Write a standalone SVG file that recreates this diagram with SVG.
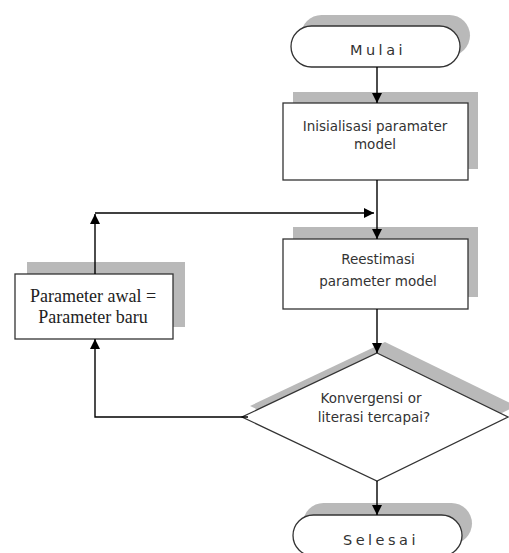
<svg xmlns="http://www.w3.org/2000/svg" width="509" height="553" viewBox="0 0 509 553">
<defs>
<marker id="arr" markerUnits="userSpaceOnUse" markerWidth="10" markerHeight="10" refX="10" refY="5" orient="auto">
<path d="M0,0 L10,5 L0,10 Z" fill="#000"/>
</marker>
<style>
.sh{fill:#b9b9b9;stroke:none}
.nd{fill:#fff;stroke:#333;stroke-width:1.3}
.ln{fill:none;stroke:#000;stroke-width:1.4}
.t{font-family:"DejaVu Sans",sans-serif;font-size:13.5px;fill:#333;text-anchor:middle}
.ts{font-family:"DejaVu Sans",sans-serif;font-size:14.5px;fill:#333;text-anchor:middle;letter-spacing:3.5px}
.tr{font-family:"Liberation Serif",serif;font-size:18px;fill:#222;text-anchor:middle}
</style>
</defs>
<rect width="509" height="553" fill="#fff"/>
<g id="mulai">
<rect class="sh" x="301" y="15" width="169" height="41" rx="20.5"/>
<rect class="nd" x="291" y="26" width="169" height="41" rx="20.5"/>
<text class="ts" x="378" y="55">Mulai</text>
</g>
<g id="inisialisasi">
<rect class="sh" x="293" y="92" width="185" height="77"/>
<rect class="nd" x="283" y="103" width="185" height="77"/>
<text class="t" x="375" y="131">Inisialisasi paramater</text>
<text class="t" x="375" y="149">model</text>
</g>
<g id="reestimasi">
<rect class="sh" x="293" y="227" width="185" height="70"/>
<rect class="nd" x="283" y="239" width="185" height="70"/>
<text class="t" x="378" y="264">Reestimasi</text>
<text class="t" x="378" y="286">parameter model</text>
</g>
<g id="parameter">
<rect class="sh" x="27" y="262" width="158" height="65"/>
<rect class="nd" x="15" y="274" width="158" height="65"/>
<text class="tr" x="93" y="302">Parameter awal =</text>
<text class="tr" x="93" y="323">Parameter baru</text>
</g>
<g id="konvergensi">
<polygon class="sh" points="385,342 516,406 385,470 250,406"/>
<polygon class="nd" points="377,353 508,417 377,481 242,417"/>
<text class="t" x="371" y="403">Konvergensi or</text>
<text class="t" x="374" y="422">literasi tercapai?</text>
</g>
<g id="selesai">
<rect class="sh" x="303" y="503" width="169" height="41" rx="20.5"/>
<rect class="nd" x="293" y="515" width="169" height="41" rx="20.5"/>
<text class="ts" x="381" y="545">Selesai</text>
</g>
<g id="connectors">
<line class="ln" x1="377" y1="67" x2="377" y2="103" marker-end="url(#arr)"/>
<line class="ln" x1="377" y1="180" x2="377" y2="239" marker-end="url(#arr)"/>
<line class="ln" x1="95" y1="213" x2="374" y2="213" marker-end="url(#arr)"/>
<line class="ln" x1="95" y1="274" x2="95" y2="214" marker-end="url(#arr)"/>
<line class="ln" x1="377" y1="309" x2="377" y2="353" marker-end="url(#arr)"/>
<path class="ln" d="M248,417 H95 V339" marker-end="url(#arr)"/>
<line class="ln" x1="377" y1="481" x2="377" y2="515" marker-end="url(#arr)"/>
</g>
</svg>
